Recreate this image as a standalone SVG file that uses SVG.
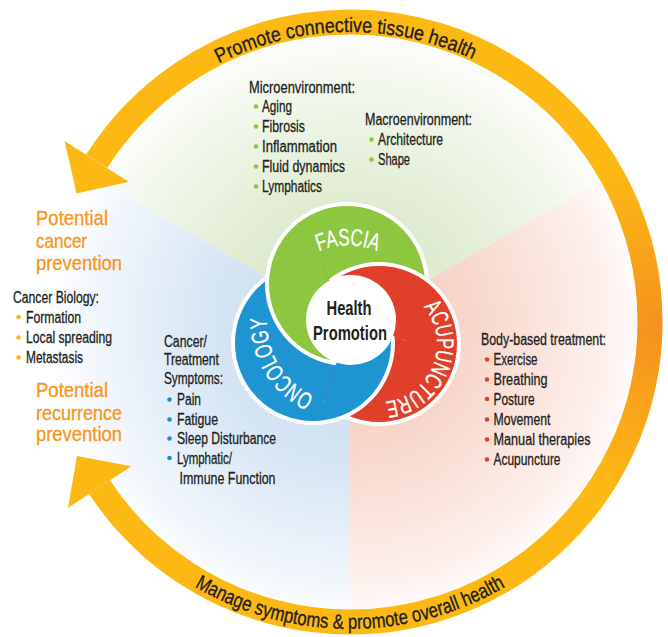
<svg xmlns="http://www.w3.org/2000/svg" width="668" height="637" viewBox="0 0 668 637">
<style>
.t{font-family:"Liberation Sans",Arial,sans-serif;font-size:16px;fill:#231F20;stroke:#231F20;stroke-width:0.3}
.o{font-family:"Liberation Sans",Arial,sans-serif;font-size:21px;fill:#F7941D;stroke:#F7941D;stroke-width:0.3}
.rt{font-family:"Liberation Sans",Arial,sans-serif;font-size:20.5px;fill:#231F20;stroke:#231F20;stroke-width:0.35}
.lb{font-family:"Liberation Sans",Arial,sans-serif;font-size:24px;fill:#FFFFFF;stroke:#FFFFFF;stroke-width:0.3}
.hp{font-family:"Liberation Sans",Arial,sans-serif;font-size:21px;font-weight:bold;fill:#231F20}
.dg{fill:#8DC63F}.db{fill:#1C8DCE}.dr{fill:#E0412C}.dy{fill:#FBB416}
.disc{stroke:#FFFFFF;stroke-width:4}
.cg{fill:#8DC63F}.cb{fill:#1E94D2}.cr{fill:#E03F29}
</style>
<defs>
<radialGradient id="gGreen" gradientUnits="userSpaceOnUse" cx="350" cy="325" r="300">
<stop offset="0" stop-color="#D3E5BD"/><stop offset="0.45" stop-color="#E2EDD4"/><stop offset="0.85" stop-color="#F5F9F0"/><stop offset="1" stop-color="#FFFFFF"/>
</radialGradient>
<radialGradient id="gBlue" gradientUnits="userSpaceOnUse" cx="350" cy="325" r="300">
<stop offset="0" stop-color="#C3D9EF"/><stop offset="0.45" stop-color="#D5E5F4"/><stop offset="0.85" stop-color="#F1F6FC"/><stop offset="1" stop-color="#FFFFFF"/>
</radialGradient>
<radialGradient id="gRed" gradientUnits="userSpaceOnUse" cx="350" cy="325" r="300">
<stop offset="0" stop-color="#F5C5B5"/><stop offset="0.45" stop-color="#F8D9CE"/><stop offset="0.85" stop-color="#FDF0EC"/><stop offset="1" stop-color="#FFFFFF"/>
</radialGradient>
<radialGradient id="gRing" gradientUnits="userSpaceOnUse" cx="662" cy="330" r="170">
<stop offset="0" stop-color="#F6911E"/><stop offset="0.35" stop-color="#F89F1B"/><stop offset="1" stop-color="#FDB913"/>
</radialGradient>
<clipPath id="s1"><polygon points="351,320 267.4,183.6 378.8,162.4 473.6,217.2 511,320 497.7,383.8"/></clipPath>
<clipPath id="s2"><polygon points="351,320 500.9,376 416.1,466.2 292.4,468.9"/></clipPath>
<clipPath id="s3"><polygon points="351,320 300.2,471.7 208.4,392.6 197.2,275.9 274.6,179.4"/></clipPath>
<circle id="cG" cx="347" cy="284" r="80"/>
<circle id="cB" cx="313" cy="343" r="80"/>
<circle id="cR" cx="379" cy="344" r="80"/>
<path id="arcTop" d="M 60 322 A 290 290 0 0 1 640 322"/>
<path id="arcBot" d="M 43 322 A 307 307 0 0 0 657 322"/>
<path id="arcF" d="M 271.5 322 A 76.5 76.5 0 0 1 424.5 322"/>
<path id="arcA" d="M 391.06 287.27 A 58 58 0 1 1 348.27 393.19"/>
<path id="arcO" d="M 403.03 383.68 A 82 82 0 1 1 319.35 245.55"/>
</defs>
<rect width="668" height="637" fill="#FFFFFF"/>
<g id="sectors">
<path id="sector-fascia" d="M350 325 L90.2 175 A300 300 0 0 1 609.8 175 Z" fill="url(#gGreen)"/>
<path id="sector-acupuncture" d="M350 325 L609.8 175 A300 300 0 0 1 350 625 Z" fill="url(#gRed)"/>
<path id="sector-oncology" d="M350 325 L350 625 A300 300 0 0 1 90.2 175 Z" fill="url(#gBlue)"/>
</g>
<g id="connectors">
<path d="M 96.7 161.3 A 300 300 0 1 1 99.6 487.2" fill="none" stroke="url(#gRing)" stroke-width="25"/>
<polygon points="64.6,140.9 128.8,181.7 76.5,193.5" fill="#FDB913"/>
<polygon points="67.9,508.1 131.3,466.3 77,456" fill="#FDB913"/>
<text class="rt" text-anchor="middle"><textPath href="#arcTop" startOffset="49.5%" textLength="263" lengthAdjust="spacingAndGlyphs">Promote connective tissue health</textPath></text>
<text class="rt" text-anchor="middle"><textPath href="#arcBot" startOffset="50%" textLength="326" lengthAdjust="spacingAndGlyphs">Manage symptoms &amp; promote overall health</textPath></text>
</g>
<g id="venn">
<g clip-path="url(#s1)">
<use href="#cB" class="disc cb"/><use href="#cG" class="disc cg"/><use href="#cR" class="disc cr"/>
</g>
<g clip-path="url(#s2)">
<use href="#cG" class="disc cg"/><use href="#cR" class="disc cr"/><use href="#cB" class="disc cb"/>
</g>
<g clip-path="url(#s3)">
<use href="#cR" class="disc cr"/><use href="#cB" class="disc cb"/><use href="#cG" class="disc cg"/>
</g>
</g>
<g id="fascia">
<text class="lb" text-anchor="middle"><textPath href="#arcF" startOffset="50%" textLength="60" lengthAdjust="spacingAndGlyphs">FASCIA</textPath></text>
</g>
<g id="acupuncture">
<text class="lb" text-anchor="middle"><textPath href="#arcA" startOffset="50%" textLength="125" lengthAdjust="spacingAndGlyphs">ACUPUNCTURE</textPath></text>
</g>
<g id="oncology">
<text class="lb" text-anchor="middle"><textPath href="#arcO" startOffset="50%" textLength="97" lengthAdjust="spacingAndGlyphs">ONCOLOGY</textPath></text>
</g>
<g id="health-promotion">
<circle cx="351" cy="320" r="45" fill="#FFFFFF"/>
<text class="hp" x="349" y="315" text-anchor="middle" textLength="45" lengthAdjust="spacingAndGlyphs">Health</text>
<text class="hp" x="350" y="340" text-anchor="middle" textLength="74" lengthAdjust="spacingAndGlyphs">Promotion</text>
</g>
<g id="microenvironment">
<text class="t" x="249" y="92.5" textLength="106" lengthAdjust="spacingAndGlyphs">Microenvironment:</text>
<circle class="dg" cx="256" cy="106.5" r="2.3"/><text class="t" x="262" y="112" textLength="30" lengthAdjust="spacingAndGlyphs">Aging</text>
<circle class="dg" cx="256" cy="126.5" r="2.3"/><text class="t" x="262" y="132" textLength="43" lengthAdjust="spacingAndGlyphs">Fibrosis</text>
<circle class="dg" cx="256" cy="146.5" r="2.3"/><text class="t" x="262" y="152" textLength="75" lengthAdjust="spacingAndGlyphs">Inflammation</text>
<circle class="dg" cx="256" cy="166.5" r="2.3"/><text class="t" x="262" y="172" textLength="83" lengthAdjust="spacingAndGlyphs">Fluid dynamics</text>
<circle class="dg" cx="256" cy="186.5" r="2.3"/><text class="t" x="262" y="192" textLength="60" lengthAdjust="spacingAndGlyphs">Lymphatics</text>
</g>
<g id="macroenvironment">
<text class="t" x="365" y="125" textLength="107" lengthAdjust="spacingAndGlyphs">Macroenvironment:</text>
<circle class="dg" cx="371.5" cy="139.5" r="2.3"/><text class="t" x="378" y="145" textLength="65" lengthAdjust="spacingAndGlyphs">Architecture</text>
<circle class="dg" cx="371.5" cy="159.5" r="2.3"/><text class="t" x="378" y="165" textLength="32" lengthAdjust="spacingAndGlyphs">Shape</text>
</g>
<g id="cancer-biology">
<text class="o" x="36" y="225" textLength="72" lengthAdjust="spacingAndGlyphs">Potential</text>
<text class="o" x="36" y="247.5" textLength="51" lengthAdjust="spacingAndGlyphs">cancer</text>
<text class="o" x="36" y="270" textLength="86" lengthAdjust="spacingAndGlyphs">prevention</text>
<text class="t" x="13" y="302.5" textLength="86" lengthAdjust="spacingAndGlyphs">Cancer Biology:</text>
<circle class="dy" cx="18.5" cy="317" r="2.3"/><text class="t" x="26" y="322.5" textLength="55" lengthAdjust="spacingAndGlyphs">Formation</text>
<circle class="dy" cx="18.5" cy="337.5" r="2.3"/><text class="t" x="26" y="343" textLength="86" lengthAdjust="spacingAndGlyphs">Local spreading</text>
<circle class="dy" cx="18.5" cy="357.5" r="2.3"/><text class="t" x="26" y="363" textLength="57" lengthAdjust="spacingAndGlyphs">Metastasis</text>
<text class="o" x="36" y="397" textLength="72" lengthAdjust="spacingAndGlyphs">Potential</text>
<text class="o" x="36" y="419.5" textLength="86" lengthAdjust="spacingAndGlyphs">recurrence</text>
<text class="o" x="36" y="441" textLength="86" lengthAdjust="spacingAndGlyphs">prevention</text>
</g>
<g id="symptoms">
<text class="t" x="164" y="346.5" textLength="43" lengthAdjust="spacingAndGlyphs">Cancer/</text>
<text class="t" x="164" y="365" textLength="55" lengthAdjust="spacingAndGlyphs">Treatment</text>
<text class="t" x="164" y="383.5" textLength="59" lengthAdjust="spacingAndGlyphs">Symptoms:</text>
<circle class="db" cx="169.5" cy="399.5" r="2.3"/><text class="t" x="177" y="405" textLength="24" lengthAdjust="spacingAndGlyphs">Pain</text>
<circle class="db" cx="169.5" cy="419.5" r="2.3"/><text class="t" x="177" y="425" textLength="41" lengthAdjust="spacingAndGlyphs">Fatigue</text>
<circle class="db" cx="169.5" cy="438.5" r="2.3"/><text class="t" x="177" y="444" textLength="99" lengthAdjust="spacingAndGlyphs">Sleep Disturbance</text>
<circle class="db" cx="169.5" cy="458" r="2.3"/><text class="t" x="177" y="463.5" textLength="55" lengthAdjust="spacingAndGlyphs">Lymphatic/</text>
<text class="t" x="179.5" y="484" textLength="96" lengthAdjust="spacingAndGlyphs">Immune Function</text>
</g>
<g id="body-based">
<text class="t" x="481" y="345" textLength="125" lengthAdjust="spacingAndGlyphs">Body-based treatment:</text>
<circle class="dr" cx="487" cy="359.5" r="2.3"/><text class="t" x="493.5" y="365" textLength="44" lengthAdjust="spacingAndGlyphs">Exercise</text>
<circle class="dr" cx="487" cy="379.5" r="2.3"/><text class="t" x="493.5" y="385" textLength="54" lengthAdjust="spacingAndGlyphs">Breathing</text>
<circle class="dr" cx="487" cy="399" r="2.3"/><text class="t" x="493.5" y="404.5" textLength="41" lengthAdjust="spacingAndGlyphs">Posture</text>
<circle class="dr" cx="487" cy="419.5" r="2.3"/><text class="t" x="493.5" y="425" textLength="57" lengthAdjust="spacingAndGlyphs">Movement</text>
<circle class="dr" cx="487" cy="439.5" r="2.3"/><text class="t" x="493.5" y="445" textLength="97" lengthAdjust="spacingAndGlyphs">Manual therapies</text>
<circle class="dr" cx="487" cy="459.5" r="2.3"/><text class="t" x="493.5" y="465" textLength="67" lengthAdjust="spacingAndGlyphs">Acupuncture</text>
</g>
</svg>
